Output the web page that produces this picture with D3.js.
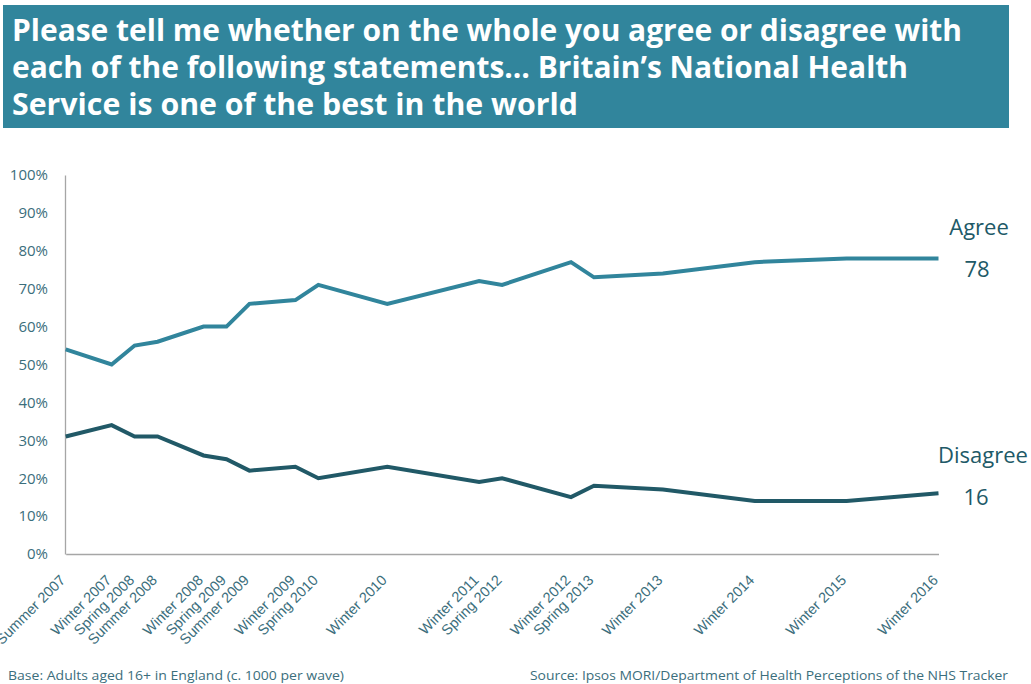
<!DOCTYPE html>
<html><head><meta charset="utf-8">
<script src="https://cdn.jsdelivr.net/npm/d3@7/dist/d3.min.js"></script>
<style>
body{margin:0;background:#fff;}
svg{display:block;font-family:"Open Sans","Noto Sans",sans-serif;}
</style></head>
<body><svg id="c" width="1031" height="684"></svg>
<script>
// Data
const waves = ["Summer 2007","Winter 2007","Spring 2008","Summer 2008","Winter 2008","Spring 2009","Summer 2009","Winter 2009","Spring 2010","Winter 2010","Winter 2011","Spring 2012","Winter 2012","Spring 2013","Winter 2013","Winter 2014","Winter 2015","Winter 2016"];
// quarters elapsed since Summer 2007 fieldwork
const waveQuarter = [0,2,3,4,6,7,8,10,11,14,18,19,22,23,26,30,34,38];
const agree =    [54,50,55,56,60,60,66,67,71,66,72,71,77,73,74,77,78,78];
const disagree = [31,34,31,31,26,25,22,23,20,23,19,20,15,18,17,14,14,16];
const yTicks = [0,10,20,30,40,50,60,70,80,90,100];
const titleLines = ["Please tell me whether on the whole you agree or disagree with","each of the following statements\u2026 Britain\u2019s National Health","Service is one of the best in the world"];

const svg = d3.select("#c");
const axisTextCol = "#3b6e7c";

// Title banner
svg.append("rect").attr("x",3).attr("y",5).attr("width",1006).attr("height",123).attr("fill","#31859c");
const titleW = [950, 896, 566];
titleLines.forEach((t,i)=>{
  svg.append("text").attr("x",12).attr("y",41+i*37).attr("fill","#fff")
    .attr("font-size",30).attr("font-weight",700)
    .attr("textLength",titleW[i]).attr("lengthAdjust","spacingAndGlyphs").text(t);
});

const x = d3.scaleLinear().domain([0,38]).range([65.7,938.5]);
const y = d3.scaleLinear().domain([0,100]).range([554,175]);

// axes
const gy = svg.append("g").attr("transform","translate(65,0)")
  .call(d3.axisLeft(y).tickValues(yTicks).tickSize(0).tickPadding(17).tickFormat(d=>d+"%"));
gy.select(".domain").attr("stroke","#a6a6a6").attr("stroke-width",1.3);
gy.selectAll("text").attr("font-size",15).attr("fill",axisTextCol).attr("font-family","Open Sans");

const gx = svg.append("g").attr("transform","translate(0,554)")
  .call(d3.axisBottom(x).tickValues(waveQuarter).tickSize(0).tickFormat((d,i)=>waves[i]));
gx.select(".domain").attr("stroke","#a6a6a6").attr("stroke-width",1.3);
gx.selectAll("text").attr("font-size",14.5).attr("fill",axisTextCol)
  .attr("text-anchor","end").attr("dy",0).attr("y",0)
  .attr("transform","translate(0,27) rotate(-45)");

// lines
const line = d3.line().x((d,i)=>x(waveQuarter[i])).y(d=>y(d));
svg.append("path").datum(agree).attr("d",line).attr("fill","none")
  .attr("stroke","#31859c").attr("stroke-width",4).attr("stroke-linejoin","miter");
svg.append("path").datum(disagree).attr("d",line).attr("fill","none")
  .attr("stroke","#215967").attr("stroke-width",4).attr("stroke-linejoin","miter");

// end labels
const labCol = "#215967";
const last = waves.length-1;
svg.append("text").attr("x",979).attr("y",y(agree[last])-23).attr("text-anchor","middle")
  .attr("font-size",22).attr("fill",labCol).text("Agree");
svg.append("text").attr("x",977).attr("y",y(agree[last])+19).attr("text-anchor","middle")
  .attr("font-size",22).attr("fill",labCol).text(agree[last]);
svg.append("text").attr("x",983).attr("y",y(disagree[last])-30).attr("text-anchor","middle")
  .attr("font-size",22).attr("fill",labCol).text("Disagree");
svg.append("text").attr("x",976).attr("y",y(disagree[last])+12).attr("text-anchor","middle")
  .attr("font-size",22).attr("fill",labCol).text(disagree[last]);

// footnotes
svg.append("text").attr("x",8).attr("y",680).attr("font-size",13).attr("fill",axisTextCol)
  .attr("textLength",336).attr("lengthAdjust","spacingAndGlyphs")
  .text("Base: Adults aged 16+ in England (c. 1000 per wave)");
svg.append("text").attr("x",530).attr("y",680).attr("font-size",13).attr("fill",axisTextCol)
  .attr("textLength",478).attr("lengthAdjust","spacingAndGlyphs")
  .text("Source: Ipsos MORI/Department of Health Perceptions of the NHS Tracker");
</script></body></html>
